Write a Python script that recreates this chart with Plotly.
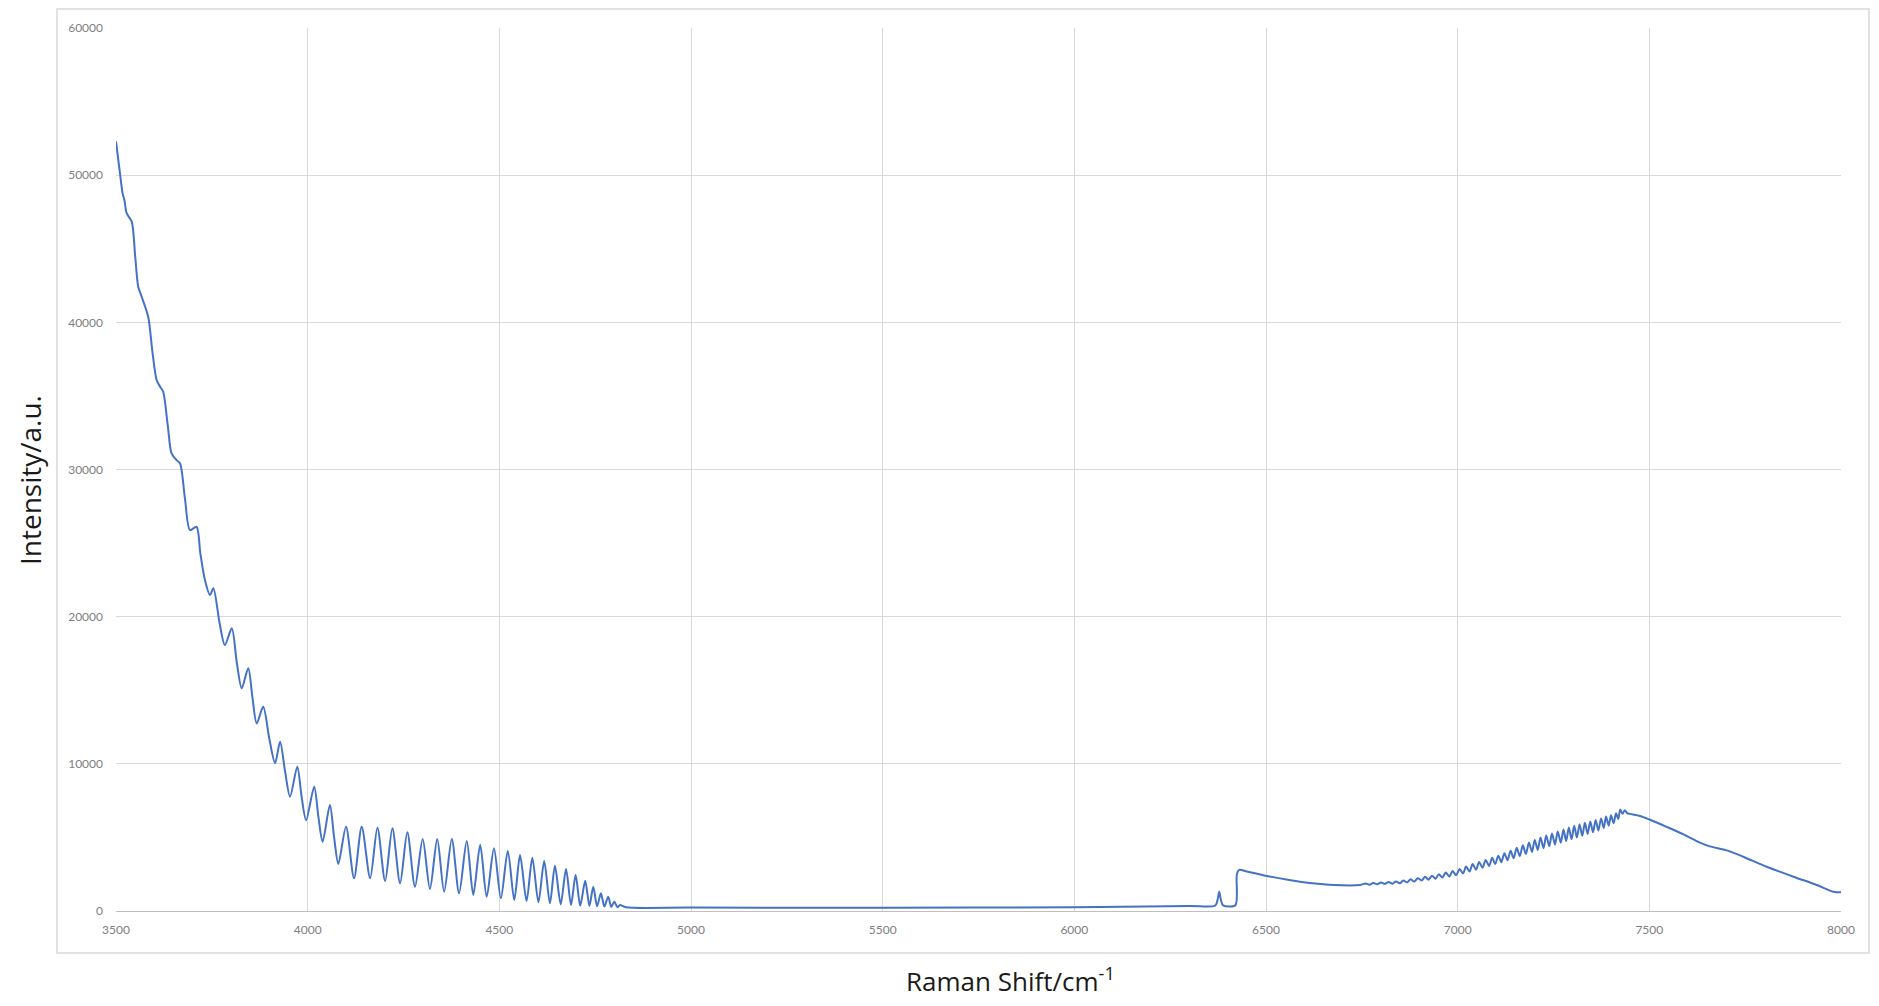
import plotly.graph_objects as go

# ---- data (Raman shift in cm-1, intensity in a.u.) ----
shift_decay = [3500, 3510, 3517, 3522, 3528, 3541, 3550, 3558, 3567, 3584, 3595, 3606,
               3615, 3623, 3635, 3645, 3658, 3667, 3680, 3693, 3710, 3720, 3732, 3745,
               3754, 3770, 3784, 3802, 3815, 3828, 3845, 3856, 3867, 3884, 3900, 3915,
               3928, 3941, 3954, 3973, 3984, 3996, 4017, 4028, 4039, 4058, 4069, 4080]
intensity_decay = [52300, 50200, 48800, 48300, 47400, 46840, 44500, 42420, 41740, 40380, 38000, 36080,
                   35630, 35290, 33000, 31100, 30640, 30420, 28000, 25890, 26110, 24300, 22490, 21470,
                   21930, 19600, 18075, 19210, 16900, 15130, 16490, 14500, 12740, 13880, 11700, 10040,
                   11500, 9500, 7770, 9810, 7800, 6180, 8450, 6400, 4710, 7200, 5000, 3200]

shift_fringes = [4100, 4121, 4141, 4163, 4182, 4202, 4221, 4241, 4260, 4280, 4300, 4319,
                 4338, 4356, 4376, 4395, 4415, 4432, 4450, 4467, 4486, 4504, 4522, 4539,
                 4554, 4571, 4586, 4602, 4617, 4632, 4645, 4660, 4674, 4687, 4699, 4711,
                 4724, 4735, 4745, 4755, 4765, 4774, 4784, 4792, 4800, 4808, 4815]
intensity_fringes = [5730, 2220, 5730, 2220, 5660, 2040, 5620, 1880, 5350, 1650, 4890, 1490,
                     4890, 1310, 4890, 1200, 4760, 1090, 4500, 970, 4260, 860, 4080, 750,
                     3800, 680, 3620, 590, 3400, 520, 3080, 455, 2850, 410, 2450, 360,
                     2050, 340, 1650, 320, 1200, 300, 970, 280, 630, 260, 400]

shift_base = [4830, 5000, 5500, 6000, 6300, 6368, 6374, 6378, 6382, 6388, 6420, 6424,
              6430, 6450, 6502, 6589, 6676, 6746]
intensity_base = [250, 230, 220, 260, 340, 370, 800, 1310, 800, 380, 390, 2500,
                  2790, 2680, 2380, 1990, 1770, 1770]

shift_ripple = [6760, 6770, 6780, 6790, 6800, 6810, 6820, 6830, 6839, 6849, 6858, 6868,
                6877, 6887, 6896, 6906, 6915, 6924, 6933, 6942, 6951, 6960, 6969, 6978,
                6987, 6996, 7005, 7014, 7022, 7031, 7039, 7048, 7056, 7065, 7073, 7082,
                7090, 7098, 7106, 7114, 7122, 7130, 7138, 7146, 7154, 7162, 7170, 7178,
                7186, 7194, 7201, 7209, 7216, 7224, 7231, 7239, 7246, 7254, 7261, 7269,
                7276, 7283, 7290, 7297, 7304, 7311, 7318, 7325, 7332, 7339, 7346, 7353,
                7360, 7367, 7374, 7381, 7387, 7394, 7400, 7407, 7413, 7419, 7424, 7430,
                7436, 7442, 7450]
intensity_ripple = [1870, 1790, 1900, 1815, 1940, 1840, 1975, 1860, 2010, 1880, 2065, 1940,
                    2150, 2000, 2230, 2070, 2320, 2130, 2400, 2190, 2500, 2270, 2610, 2350,
                    2710, 2430, 2850, 2555, 3020, 2680, 3190, 2810, 3330, 2935, 3470, 3060,
                    3610, 3190, 3760, 3320, 3930, 3450, 4100, 3590, 4290, 3730, 4470, 3870,
                    4660, 4015, 4830, 4150, 5000, 4270, 5130, 4400, 5270, 4520, 5410, 4645,
                    5540, 4760, 5670, 4875, 5790, 4990, 5890, 5110, 5990, 5230, 6090, 5350,
                    6190, 5470, 6285, 5640, 6420, 5800, 6510, 5960, 6650, 6250, 6900, 6600,
                    6850, 6650, 6600]

shift_tail = [7476, 7502, 7545, 7589, 7632, 7658, 7702, 7745, 7806, 7876, 7937, 7980, 8000]
intensity_tail = [6460, 6200, 5720, 5210, 4650, 4390, 4120, 3690, 3010, 2330, 1770, 1310, 1270]

x_ticks = [3500, 4000, 4500, 5000, 5500, 6000, 6500, 7000, 7500, 8000]
y_ticks = [0, 10000, 20000, 30000, 40000, 50000, 60000]

x_title = "Raman Shift/cm<sup>-1</sup>"
y_title = "Intensity/a.u."

# ---- assemble ----
shift = shift_decay + shift_fringes + shift_base + shift_ripple + shift_tail
intensity = intensity_decay + intensity_fringes + intensity_base + intensity_ripple + intensity_tail

fig = go.Figure()
fig.add_trace(go.Scatter(
    x=shift, y=intensity, mode="lines",
    line=dict(color="#4472C4", width=2, shape="spline", smoothing=0.8),
    showlegend=False, hoverinfo="x+y"))

grid = "#d9d9d9"
tickfont = dict(family="Lato, Open Sans, sans-serif", size=12, color="#808080")
title_family = "Open Sans, Lato, sans-serif"

fig.update_layout(
    width=1863, height=990,
    margin=dict(l=108, r=30, t=20, b=87),
    paper_bgcolor="white", plot_bgcolor="white",
    xaxis=dict(range=[3500, 8000], tickvals=x_ticks, ticktext=[str(v) for v in x_ticks],
               showgrid=True, gridcolor=grid, gridwidth=1, zeroline=False,
               showline=True, linecolor="#bfbfbf", linewidth=1, mirror=False,
               ticks="", tickfont=tickfont, ticklabelstandoff=8),
    yaxis=dict(range=[0, 60000], tickvals=y_ticks, ticktext=[str(v) for v in y_ticks],
               showgrid=True, gridcolor=grid, gridwidth=1, zeroline=False,
               showline=False, ticks="", tickfont=tickfont, ticklabelstandoff=12),
    font=dict(family="Lato, Open Sans, sans-serif"),
)

# outer chart border (Excel chart area)
fig.add_shape(type="rect", xref="paper", yref="paper",
              x0=-0.0342, x1=1.0162, y0=-0.0476, y1=1.0215,
              line=dict(color="#d9d9d9", width=1.5), fillcolor="rgba(0,0,0,0)", layer="below")

fig.add_annotation(text=y_title, xref="paper", yref="paper", x=-0.0499, y=0.488,
                   textangle=-90, showarrow=False, xanchor="center", yanchor="middle",
                   font=dict(family=title_family, size=28, color="#1a1a1a"))
fig.add_annotation(text=x_title, xref="paper", yref="paper", x=0.5183, y=-0.0781,
                   showarrow=False, xanchor="center", yanchor="middle",
                   font=dict(family=title_family, size=26, color="#1a1a1a"))

fig.write_html("out.html")
